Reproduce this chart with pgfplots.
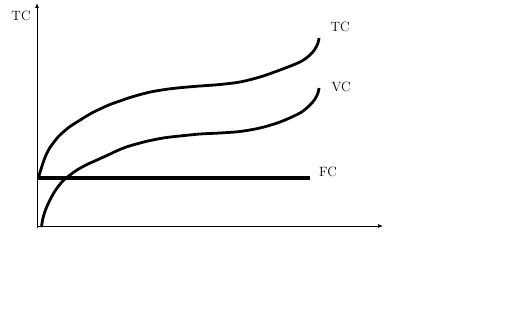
\documentclass[border=0pt]{standalone}
\usepackage{fontspec}
\usepackage{pgfplots}
\pgfplotsset{compat=1.18}
\usetikzlibrary{arrows.meta}
\begin{document}
\begin{tikzpicture}[x=1bp,y=1bp]
\useasboundingbox (0,0) rectangle (524,321);
\begin{axis}[
  at={(37bp,93bp)}, anchor=south west,
  scale only axis, width=346bp, height=225bp,
  xmin=0, xmax=346, ymin=-2, ymax=223,
  axis lines=middle,
  axis line style={line width=0.8pt, -{Latex[length=5bp,width=4bp]}},
  xtick=\empty, ytick=\empty,
  clip=false,
]
\addplot[black, line width=3.2pt] coordinates {(0,48) (273,48)};
\addplot[black, line width=2.8pt, smooth] coordinates {
(1.5,47) (2.5,52) (4.7,59) (7,66) (9.7,72.5) (13,78.5) (16.3,83) (21,89) (26.3,94) (33,99.5) (40,104) (53,112) (63,117) (73,121.5) (83,125) (93,128.5) (111,133.5) (128,136.5) (143,138.3) (163,140) (183,141.5) (203,144) (223,149) (243,156) (263,164) (273,171) (278,177) (281,183) (282,188)};
\addplot[black, line width=2.8pt, smooth] coordinates {
(4.5,-1) (5.2,4) (6.5,10) (8.5,16) (11,22) (14,28) (18,35) (22,40.5) (26.3,45.5) (33,51) (40,56) (50,61.5) (60,66) (71,71) (84,77) (94,80.5) (111,85) (128,88.3) (143,90) (163,92) (183,93) (203,94.5) (223,98) (243,104) (263,113) (273,121) (278,127) (281,133) (282,138)};
\node[font=\fontsize{13.5}{15}\selectfont] at (axis cs:-16,210) {TC};
\node[font=\fontsize{13.5}{15}\selectfont] at (axis cs:303,199) {TC};
\node[font=\fontsize{13.5}{15}\selectfont] at (axis cs:304,139.3) {VC};
\node[font=\fontsize{13.5}{15}\selectfont] at (axis cs:291,54) {FC};
\end{axis}
\end{tikzpicture}
\end{document}
